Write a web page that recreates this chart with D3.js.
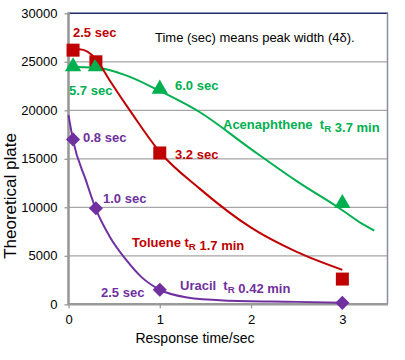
<!DOCTYPE html>
<html lang="en">
<head>
<meta charset="UTF-8">
<title>Theoretical plate vs response time</title>
<script src="https://d3js.org/d3.v7.min.js"></script>
<style>
  body { margin: 0; background: #fff; }
  text { font-family: Arial, "Liberation Sans", sans-serif; }
</style>
</head>
<body>
<svg id="chart" width="405" height="360"></svg>
<script>
// measured points (response time / sec, theoretical plate)
const responseTimes = [0.05, 0.3, 1, 3];
const toluene = [26200, 25000, 15600, 2600];
const acenaphthene = [24500, 24500, 22200, 10400];
const uracil = [17000, 9900, 1500, 150];

// fitted curves
const tolueneFitX = [0, 0.12, 0.3, 0.45, 0.7, 1, 1.44, 2, 2.5, 3];
const tolueneFitY = [26100, 26300, 25300, 23100, 19600, 15700, 11900, 7900, 5400, 3550];
const acenaphtheneFitX = [0, 0.3, 0.6, 1, 1.44, 2, 2.5, 3, 3.2, 3.35];
const acenaphtheneFitY = [24500, 24400, 23700, 22000, 19800, 16000, 12700, 9700, 8400, 7600];
const uracilFitX = [0, 0.05, 0.19, 0.3, 0.45, 0.63, 0.8, 1, 1.3, 1.7, 2.5, 3];
const uracilFitY = [19500, 16900, 12800, 9800, 7000, 4600, 2800, 1500, 700, 400, 250, 150];

const yTicks = [0, 5000, 10000, 15000, 20000, 25000, 30000];
const xTicks = [0, 1, 2, 3];

const red = "#C00000", green = "#00B050", purple = "#7030A0";

const svg = d3.select("#chart");
const x = d3.scaleLinear().domain([0, 3.5]).range([68.5, 388]);
const y = d3.scaleLinear().domain([0, 30000]).range([304.3, 13.3]);

// gridlines
svg.append("g").selectAll("line")
  .data(yTicks.filter(d => d > 0 && d < 30000))
  .join("line")
  .attr("x1", x(0)).attr("x2", x(3.5))
  .attr("y1", d => y(d)).attr("y2", d => y(d))
  .attr("stroke", "#a6a6a6").attr("stroke-width", 1.3);

// frame: top + right
svg.append("line").attr("x1", x(0)).attr("x2", x(3.5)).attr("y1", y(30000)).attr("y2", y(30000))
  .attr("stroke", "#1F2F6B").attr("stroke-width", 1.5);
svg.append("line").attr("x1", x(3.5) - 0.5).attr("x2", x(3.5) - 0.5).attr("y1", y(30000)).attr("y2", y(0))
  .attr("stroke", "#8A8CA6").attr("stroke-width", 1.5);

// axes
const yAxis = svg.append("g").attr("transform", `translate(${x(0)},0)`)
  .call(d3.axisLeft(y).tickValues(yTicks).tickFormat(d3.format("d")).tickSize(4).tickPadding(7));
const xAxis = svg.append("g").attr("transform", `translate(0,${y(0)})`)
  .call(d3.axisBottom(x).tickValues(xTicks).tickFormat(d3.format("d")).tickSize(4).tickPadding(6));
[yAxis, xAxis].forEach(a => {
  a.select(".domain").remove();
  a.selectAll(".tick line").attr("stroke", "#999").attr("stroke-width", 1.3);
  a.selectAll("text").attr("font-size", 13).attr("fill", "#000")
    .attr("font-family", "Arial, 'Liberation Sans', sans-serif");
});
svg.append("line").attr("x1", x(0)).attr("x2", x(0)).attr("y1", y(30000) - 1).attr("y2", y(0) + 1)
  .attr("stroke", "#999").attr("stroke-width", 2.6);
svg.append("line").attr("x1", x(0)).attr("x2", x(3.5)).attr("y1", y(0)).attr("y2", y(0))
  .attr("stroke", "#999").attr("stroke-width", 2.4);

// axis titles
svg.append("text").attr("transform", "translate(16,196) rotate(-90)")
  .attr("text-anchor", "middle").attr("font-size", 17).text("Theoretical plate");
svg.append("text").attr("x", 195).attr("y", 343)
  .attr("text-anchor", "middle").attr("font-size", 14).text("Response time/sec");

const line = d3.line().x(d => x(d[0])).y(d => y(d[1])).curve(d3.curveMonotoneX);
const pts = vals => responseTimes.map((t, i) => [t, vals[i]]);

function markers(vals, type, size, color, rotate) {
  svg.append("g").selectAll("path")
    .data(pts(vals))
    .join("path")
    .attr("d", d3.symbol().type(type).size(size))
    .attr("transform", d => `translate(${x(d[0])},${y(d[1])}) rotate(${rotate})`)
    .attr("fill", color);
}
function curve(xs, ys, color) {
  svg.append("path")
    .datum(xs.map((t, i) => [t, ys[i]]))
    .attr("fill", "none").attr("stroke", color).attr("stroke-width", 2)
    .attr("d", line);
}

markers(toluene, d3.symbolSquare, 169, red, 0);
markers(acenaphthene, d3.symbolTriangle, 115, green, 0);
curve(acenaphtheneFitX, acenaphtheneFitY, green);
curve(tolueneFitX, tolueneFitY, red);
curve(uracilFitX, uracilFitY, purple);
markers(uracil, d3.symbolSquare, 100, purple, 45);

// annotations
function label(px, py, color, parts, size, weight) {
  const t = svg.append("text").attr("x", px).attr("y", py).attr("fill", color)
    .attr("font-size", size).attr("font-weight", weight);
  parts.forEach(p => {
    if (p.sub) {
      t.append("tspan").attr("font-size", size * 0.75).attr("dy", 3).text(p.sub);
      t.append("tspan").attr("dy", -3).text("");
    } else {
      t.append("tspan").text(p.t);
    }
  });
}
label(155, 42, "#000", [{t: "Time (sec) means peak width (4δ)."}], 13, "normal");
label(73, 37, red, [{t: "2.5 sec"}], 13, "bold");
label(69, 95, green, [{t: "5.7 sec"}], 13, "bold");
label(175, 90, green, [{t: "6.0 sec"}], 13, "bold");
label(83, 142, purple, [{t: "0.8 sec"}], 13, "bold");
label(175, 159, red, [{t: "3.2 sec"}], 13, "bold");
label(223, 129, green, [{t: "Acenaphthene\u00a0\u00a0t"}, {sub: "R"}, {t: " 3.7 min"}], 13, "bold");
label(103, 203, purple, [{t: "1.0 sec"}], 13, "bold");
label(132, 247, red, [{t: "Toluene t"}, {sub: "R"}, {t: " 1.7 min"}], 13, "bold");
label(101, 297, purple, [{t: "2.5 sec"}], 13, "bold");
label(180, 290, purple, [{t: "Uracil\u00a0\u00a0t"}, {sub: "R"}, {t: " 0.42 min"}], 13, "bold");
</script>
</body>
</html>
